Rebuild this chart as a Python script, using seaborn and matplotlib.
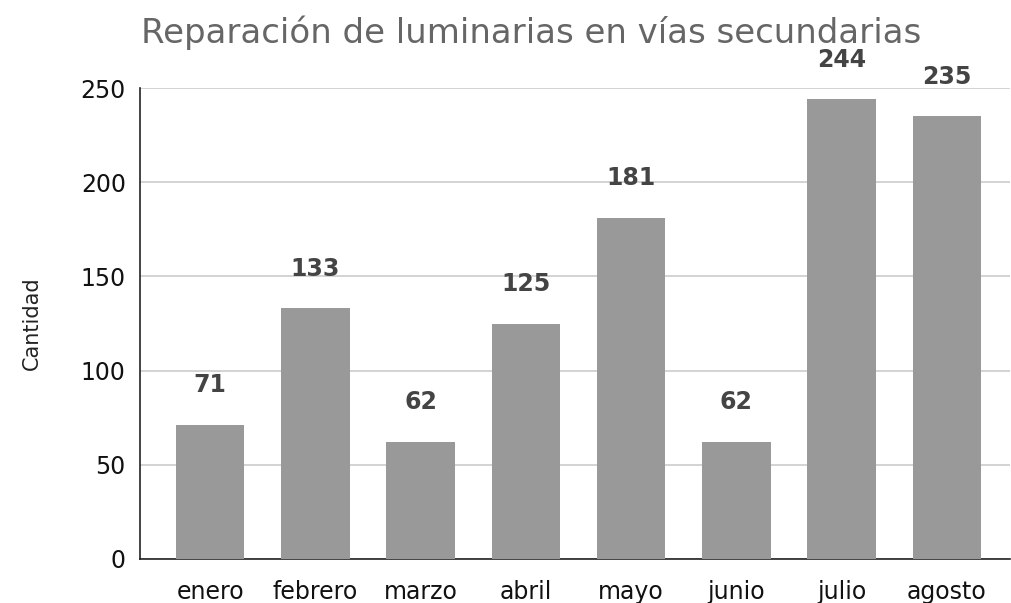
import pandas as pd
import seaborn as sns
import matplotlib.pyplot as plt

meses = ["enero", "febrero", "marzo", "abril", "mayo", "junio", "julio", "agosto"]
cantidad = [71, 133, 62, 125, 181, 62, 244, 235]
y_ticks = [0, 50, 100, 150, 200, 250]

df = pd.DataFrame({"mes": meses, "cantidad": cantidad})

sns.set_style("white")
plt.rcParams["font.family"] = ["DejaVu Sans"]

fig = plt.figure(figsize=(10.12, 6.03), dpi=100)
ax = fig.add_axes([0.138, 0.073, 0.86, 0.781])

sns.barplot(data=df, x="mes", y="cantidad", color="#999999", width=0.65,
            saturation=1, linewidth=0, ax=ax, zorder=3)

for i, v in enumerate(cantidad):
    ax.annotate(str(v), (i, v), xytext=(0, 20), textcoords="offset points",
                ha="center", va="bottom", fontsize=17, fontweight="bold",
                color="#444444")

ax.set_ylim(0, 250)
ax.set_xlim(-0.67, 7.6)
ax.set_yticks(y_ticks)
ax.yaxis.grid(True, color="#cccccc", linewidth=1.2, zorder=0)
ax.set_axisbelow(True)
ax.tick_params(axis="x", labelsize=17, length=0, colors="#111111", pad=15)
ax.tick_params(axis="y", labelsize=17, length=0, colors="#111111", pad=10)
ax.set_xlabel("")
ax.set_ylabel("Cantidad", fontsize=15, color="#222222", labelpad=28)
sns.despine(ax=ax, top=True, right=True)
ax.spines["left"].set_color("#222222")
ax.spines["bottom"].set_color("#222222")
ax.spines["left"].set_linewidth(1.2)
ax.spines["bottom"].set_linewidth(1.2)

fig.text(0.525, 0.946, "Reparación de luminarias en vías secundarias",
         ha="center", va="center", fontsize=24.5, color="#666666")

fig.savefig("out.png", dpi=100)
